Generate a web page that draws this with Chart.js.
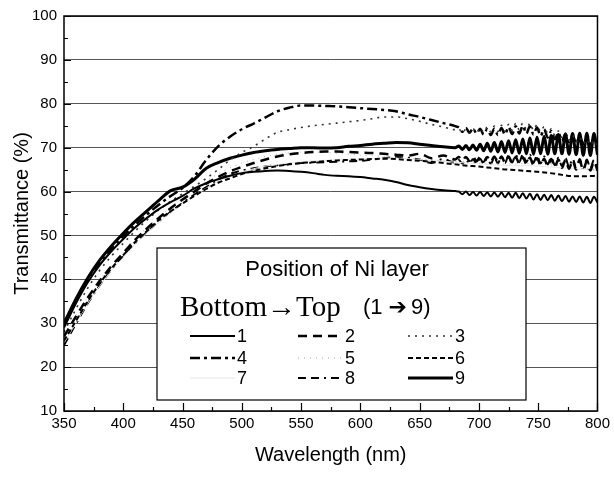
<!DOCTYPE html>
<html>
<head>
<meta charset="utf-8">
<script src="https://cdn.jsdelivr.net/npm/chart.js@4.4.1/dist/chart.umd.min.js"></script>
<style>
  html, body { margin: 0; background: #fff; }
  #wrap { width: 614px; height: 477px; position: relative; }
</style>
</head>
<body>
<div id="wrap"><canvas id="chart"></canvas></div>
<script>
// ---------- DATA ----------
// fine grid: 10 nm steps, then 3 nm steps where the spectra get noisy
const wlFine = [350,360,370,380,390,400,410,420,430,440,450,460,470,480,490,500,510,520,530,540,550,560,570,580,590,600,610,620,630,640,650,660,670,680,
  683,686,689,692,695,698,701,704,707,710,713,716,719,722,725,728,731,734,737,740,743,746,749,752,755,758,761,764,767,770,773,776,779,782,785,788,791,794,797,800];
const wlCoarse = [350,360,370,380,390,400,410,420,430,440,450,460,470,480,490,500,510,520,530,540,550,560,570,580,590,600,610,620,630,640,650,660,670,680,690,700,710,720,730,740,750,760,770,780,790,800];

const layer1 = [29,34.5,39.3,43.2,46.4,49.2,51.8,54,56,57.6,59,60.7,61.9,62.8,63.6,64.2,64.5,64.7,64.8,64.7,64.5,64.2,63.8,63.6,63.5,63.3,63.0,62.7,62.2,61.5,61,60.6,60.3,60.1,
  60.0,59.4,60.0,59.2,59.9,59.1,59.9,59.0,59.8,58.9,59.8,58.8,59.8,58.7,59.7,58.6,59.7,58.5,59.6,58.4,59.5,58.2,59.4,58.1,59.3,58.0,59.2,57.9,59.1,57.8,59.0,57.7,58.9,57.6,58.9,57.5,58.8,57.4,58.8,57.5];
const layer2 = [27,31.5,35.8,39.6,43,46,49,51.6,54,56.2,58.2,60,61.8,63.3,64.6,65.6,66.5,67.3,68,68.5,68.8,69,69.1,69.1,69,68.9,68.8,68.6,68.4,68.2,68.6,67.6,68.2,67.3,
  67.9,67.1,67.9,67.0,67.9,66.9,67.9,66.8,67.9,66.8,68.0,66.7,68.0,66.6,68.0,66.5,67.9,66.4,67.8,66.3,67.7,66.1,67.6,66.0,67.5,65.8,67.4,65.6,67.3,65.4,67.2,65.2,67.1,65.0,67.0,64.9,66.9,64.8,66.8,64.8];
const layer3 = [28,33.2,38,42,45.3,48.2,51,53.5,55.8,57.8,59.5,61.2,63,65,67.2,68.9,70.3,72,73.5,74.1,74.6,75,75.3,75.6,75.9,76.2,76.6,77,77,76.6,76,75.3,74.7,74.1,
  74.3,73.4,74.2,73.3,74.3,73.4,74.5,73.5,74.7,73.6,74.9,73.7,75.1,73.8,75.3,74.0,75.5,74.1,75.6,74.2,75.5,74.0,75.2,73.7,74.8,73.3,74.3,72.8,73.8,72.3,73.3,71.8,72.8,71.3,72.3,70.9,71.9,70.6,71.6,70.3];
const layer4 = [29.5,35,39.8,43.8,47,49.8,52.4,54.8,57,59,60.8,63.5,67.2,70.3,72.5,74.2,75.5,76.9,78.3,79.1,79.6,79.6,79.5,79.4,79.2,79,78.8,78.6,78.3,77.6,77,76.3,75.6,74.9,
  74.6,73.6,74.5,73.4,74.4,73.2,74.3,73.0,74.2,72.9,74.3,72.9,74.5,73.0,74.7,73.1,74.9,73.2,75.0,73.2,74.9,73.0,74.6,72.7,74.2,72.3,73.8,71.9,73.4,71.6,73.1,71.3,72.8,71.0,72.6,70.8,72.4,70.6,72.2,70.5];
const layer5 = [27,31.8,36,39.8,43.2,46.2,49.2,51.8,54.2,56.5,58.5,60.5,62.4,64,65.4,66.5,67.3,68,68.5,68.8,69,69,68.9,68.7,68.5,68.3,68.2,68,67.8,67.6,67.4,67.2,67,66.8,66.6,66.5,66.4,66.3,66.3,66.4,66.3,66.1,65.8,65.5,65.2,65];
const layer6 = [26,30.5,35,39,42.5,45.5,48.5,51,53.5,55.5,57.3,59,60.6,62,63,64,64.7,65.3,65.8,66.2,66.5,66.7,66.9,67.1,67.2,67.3,67.4,67.5,67.4,67.2,67,66.8,66.5,66.2,65.9,65.7,65.4,65.1,64.9,64.7,64.5,64.2,63.8,63.5,63.5,63.6];
const layer7 = [25.5,30,34.5,38.5,42,45,48,50.6,53,55.2,57.2,59,60.8,62.3,63.5,64.5,65.2,65.8,66.2,66.5,66.8,67,67.1,67.2,67.3,67.4,67.5,67.6,67.6,67.5,67.3,67.1,66.9,66.7,66.5,66.3,66.1,66,65.9,65.9,65.8,65.6,65.4,65.2,65,64.8];
const layer8 = [25,29.8,34.5,38.6,42.2,45.3,48.2,50.8,53.2,55.4,57.4,59.3,61,62.7,64,64.8,65.3,65.7,66,66.3,66.5,66.6,66.7,66.8,66.9,67,67.3,67.6,67.9,67.7,67.3,66.5,67.4,66.6,
  67.2,66.4,67.3,66.3,67.4,66.3,67.5,66.3,67.6,66.3,67.8,66.4,68.0,66.5,68.2,66.6,68.4,66.7,68.5,66.7,68.4,66.6,68.2,66.4,68.0,66.2,67.8,66.0,67.7,65.8,67.6,65.6,67.5,65.5,67.4,65.4,67.3,65.3,67.2,65.2];
const layer9 = [30,35.5,40.3,44.3,47.6,50.5,53.2,55.6,58,60.2,61,62.8,65.3,66.6,67.6,68.3,68.9,69.3,69.6,69.8,70,70,69.9,70,70.3,70.5,70.8,71,71.2,71.1,70.8,70.5,70.2,70.0,
  70.4,69.6,70.5,69.5,70.6,69.4,70.8,69.3,71.0,69.2,71.2,69.0,71.4,68.9,71.6,68.8,71.8,68.7,72.0,68.6,72.2,68.5,72.4,68.6,72.6,68.5,72.8,68.6,73.0,68.6,73.1,68.5,73.2,68.4,73.3,68.3,73.3,68.2,73.2,68.4];

const xTicks = [350, 800, 50];   // min, max, step
const yTicks = [10, 100, 10];

const FONT = '"Liberation Sans", Arial, sans-serif';

// ---------- HELPERS ----------
const pts = (xs, ys) => {
  if (xs.length !== ys.length) console.warn('length mismatch', xs.length, ys.length);
  const n = Math.min(xs.length, ys.length);
  return xs.slice(0, n).map((w, i) => ({ x: w, y: ys[i] }));
};
const series = (label, xs, ys, style) => Object.assign({
  label: label,
  data: pts(xs, ys),
  borderColor: '#000',
  borderWidth: 2,
  borderDash: [],
  pointRadius: 0,
  fill: false,
  cubicInterpolationMode: 'monotone'
}, style);

const datasets = [
  series('1', wlFine,   layer1, { borderWidth: 2 }),
  series('2', wlFine,   layer2, { borderWidth: 2.5, borderDash: [9, 6] }),
  series('3', wlFine,   layer3, { borderWidth: 1.6, borderDash: [2, 5], borderColor: '#333' }),
  series('4', wlFine,   layer4, { borderWidth: 2.5, borderDash: [10, 4, 3, 4] }),
  series('5', wlCoarse, layer5, { borderWidth: 1, borderDash: [1, 5], borderColor: '#aaa' }),
  series('6', wlCoarse, layer6, { borderWidth: 2, borderDash: [5, 3] }),
  series('7', wlCoarse, layer7, { borderWidth: 1, borderColor: '#e6e6e6' }),
  series('8', wlFine,   layer8, { borderWidth: 2, borderDash: [8, 5, 8, 5, 2, 5] }),
  series('9', wlFine,   layer9, { borderWidth: 3 })
];

// ---------- FRAME + INWARD TICKS ----------
const framePlugin = {
  id: 'frame',
  afterDraw(chart) {
    const { ctx, chartArea: a, scales: { x, y } } = chart;
    ctx.save();
    ctx.strokeStyle = '#000';
    ctx.lineWidth = 1.5;
    ctx.strokeRect(a.left, a.top, a.right - a.left, a.bottom - a.top);
    ctx.lineWidth = 1.2;
    ctx.beginPath();
    for (let v = xTicks[0]; v <= xTicks[1]; v += xTicks[2] / 2) {
      const px = Math.round(x.getPixelForValue(v)) + 0.5;
      const len = (v - xTicks[0]) % xTicks[2] === 0 ? 8 : 4;
      ctx.moveTo(px, a.bottom); ctx.lineTo(px, a.bottom - len);
    }
    for (let v = yTicks[0]; v <= yTicks[1]; v += yTicks[2] / 2) {
      const py = Math.round(y.getPixelForValue(v)) + 0.5;
      const len = (v - yTicks[0]) % yTicks[2] === 0 ? 7 : 4;
      ctx.moveTo(a.left, py); ctx.lineTo(a.left + len, py);
    }
    ctx.stroke();
    ctx.restore();
  }
};

// ---------- LEGEND BOX (drawn by hand, 3 x 3 grid) ----------
const legendPlugin = {
  id: 'niLegend',
  afterDatasetsDraw(chart) {
    const ctx = chart.ctx;
    const box = { left: 157, top: 248, right: 526, bottom: 400 };
    ctx.save();
    ctx.fillStyle = '#fff';
    ctx.fillRect(box.left, box.top, box.right - box.left, box.bottom - box.top);
    ctx.strokeStyle = '#000';
    ctx.lineWidth = 1.2;
    ctx.strokeRect(box.left, box.top, box.right - box.left, box.bottom - box.top);

    ctx.fillStyle = '#000';
    ctx.textBaseline = 'alphabetic';
    ctx.textAlign = 'center';
    ctx.font = '22px ' + FONT;
    ctx.fillText('Position of Ni layer', 337, 276);

    ctx.textAlign = 'left';
    ctx.font = '29px "Liberation Serif", "Times New Roman", serif';
    ctx.fillText('Bottom\u2192Top', 180, 316);
    ctx.font = '22px ' + FONT;
    let tx = 363;
    ctx.fillText('(1', tx, 314); tx += ctx.measureText('(1').width + 6;
    ctx.font = '22px "DejaVu Sans", sans-serif';
    ctx.fillText('\u2794', tx, 314); tx += ctx.measureText('\u2794').width + 4;
    ctx.font = '22px ' + FONT;
    ctx.fillText('9)', tx, 314);

    const cols = [190, 298, 408], rows = [336, 358, 378], len = 45;
    ctx.font = '18px ' + FONT;
    ctx.textBaseline = 'middle';
    chart.data.datasets.forEach((ds, i) => {
      const cx = cols[i % 3], cy = rows[Math.floor(i / 3)];
      ctx.save();
      ctx.strokeStyle = ds.borderColor;
      ctx.lineWidth = ds.borderWidth;
      ctx.setLineDash(ds.borderDash || []);
      ctx.beginPath();
      ctx.moveTo(cx, cy); ctx.lineTo(cx + len, cy);
      ctx.stroke();
      ctx.restore();
      ctx.fillText(ds.label, cx + len + 2, cy + 1);
    });
    ctx.restore();
  }
};

// ---------- CHART ----------
document.addEventListener('DOMContentLoaded', function () {
  const ctx = document.getElementById('chart');
  new Chart(ctx, {
    type: 'line',
    data: { datasets: datasets },
    options: {
      responsive: true,
      maintainAspectRatio: false,
      animation: false,
      layout: { padding: { left: 0, right: 14, top: 15, bottom: 0 } },
      plugins: { legend: { display: false }, tooltip: { enabled: false } },
      scales: {
        x: {
          type: 'linear', min: xTicks[0], max: xTicks[1],
          ticks: { stepSize: xTicks[2], autoSkip: false, maxRotation: 0, color: '#000', padding: 4, font: { family: FONT, size: 15 } },
          grid: { display: false, drawTicks: false },
          border: { display: false },
          title: { display: true, text: 'Wavelength (nm)', color: '#000', font: { family: FONT, size: 20 }, padding: { top: 0, bottom: 10 } },
          afterFit: function (s) { s.height = 66; }
        },
        y: {
          min: yTicks[0], max: yTicks[1],
          ticks: { stepSize: yTicks[2], color: '#000', padding: 7, font: { family: FONT, size: 15 } },
          grid: { color: '#555', lineWidth: 1, drawTicks: false },
          border: { display: false },
          title: { display: true, text: 'Transmittance (%)', color: '#000', font: { family: FONT, size: 20 }, padding: { top: 10, bottom: 0 } },
          afterFit: function (s) { s.width = 64; }
        }
      }
    },
    plugins: [framePlugin, legendPlugin]
  });
});
</script>
</body>
</html>
